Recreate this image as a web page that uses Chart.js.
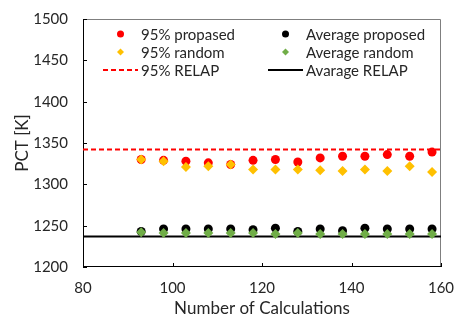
<!DOCTYPE html>
<html>
<head>
<meta charset="utf-8">
<script src="https://cdn.jsdelivr.net/npm/chart.js@4/dist/chart.umd.min.js"></script>
<style>
  html, body { margin: 0; padding: 0; background: #fff; }
  #wrap { width: 458px; height: 320px; }
</style>
</head>
<body>
<div id="wrap"><canvas id="pctChart" width="458" height="320"></canvas></div>
<script>
// values
const calcs = [93, 98, 103, 108, 113, 118, 123, 128, 133, 138, 143, 148, 153, 158];
const p95Proposed = [1330, 1329, 1328, 1326, 1324, 1329, 1330, 1327, 1332, 1334, 1334, 1336, 1334, 1339];
const p95Random = [1330, 1328, 1321, 1322, 1324, 1318, 1318, 1318, 1317, 1316, 1318, 1316, 1322, 1315];
const avgProposed = [1243, 1246, 1246, 1246, 1246, 1245, 1247, 1243, 1246, 1244, 1247, 1246, 1246, 1246];
const avgRandom = [1242, 1241, 1241, 1241, 1241, 1241, 1240, 1241, 1240, 1240, 1240, 1240, 1240, 1240];
const relap95 = [1342];
const relapAvg = [1237];
const xTicks = [80, 100, 120, 140, 160];
const yTicks = [1200, 1250, 1300, 1350, 1400, 1450, 1500];

const FONT = 'Lato, "Open Sans", sans-serif';
const TXT = '#262626';

function points(ys) {
    return calcs.map((x, i) => ({ x: x, y: ys[i] }));
}
function hline(v) {
    return [{ x: xTicks[0], y: v }, { x: xTicks[xTicks.length - 1], y: v }];
}

// frame + inward tick marks
const framePlugin = {
    id: 'frame',
    beforeDatasetsDraw(chart) {
        const { ctx, chartArea: a, scales } = chart;
        ctx.save();
        ctx.lineWidth = 1;
        ctx.strokeStyle = '#7f7f7f';
        ctx.beginPath();
        ctx.moveTo(a.left, a.top + 0.5);
        ctx.lineTo(a.right - 0.5, a.top + 0.5);
        ctx.lineTo(a.right - 0.5, a.bottom);
        ctx.stroke();
        ctx.strokeStyle = '#000';
        ctx.beginPath();
        ctx.moveTo(a.left + 0.5, a.top);
        ctx.lineTo(a.left + 0.5, a.bottom - 0.5);
        ctx.lineTo(a.right, a.bottom - 0.5);
        yTicks.forEach(v => {
            const y = Math.round(scales.y.getPixelForValue(v)) + 0.5;
            ctx.moveTo(a.left, y);
            ctx.lineTo(a.left + 4, y);
        });
        xTicks.forEach(v => {
            const x = Math.round(scales.x.getPixelForValue(v)) + 0.5;
            ctx.moveTo(x, a.bottom);
            ctx.lineTo(x, a.bottom - 4);
        });
        ctx.stroke();
        ctx.restore();
    }
};

const legendItems = [
    { label: '95% propased', type: 'dot', color: '#ff0000', col: 0, row: 0 },
    { label: 'Average proposed', type: 'dot', color: '#000000', col: 1, row: 0 },
    { label: '95% random', type: 'diamond', color: '#ffc000', col: 0, row: 1 },
    { label: 'Average random', type: 'diamond', color: '#70ad47', col: 1, row: 1 },
    { label: '95% RELAP', type: 'dash', color: '#ff0000', col: 0, row: 2 },
    { label: 'Avarage RELAP', type: 'line', color: '#000000', col: 1, row: 2 }
];

const legendPlugin = {
    id: 'boxLegend',
    afterDatasetsDraw(chart) {
        const { ctx, chartArea: a } = chart;
        const colX = [a.left + 20, a.left + 185];
        const rowY = [a.top + 15, a.top + 33, a.top + 51];
        ctx.save();
        ctx.font = '15px ' + FONT;
        ctx.textBaseline = 'middle';
        legendItems.forEach(it => {
            const x = colX[it.col];
            const y = rowY[it.row];
            ctx.fillStyle = it.color;
            ctx.strokeStyle = it.color;
            if (it.type === 'dot') {
                ctx.beginPath();
                ctx.arc(x + 17.5, y, 3.5, 0, Math.PI * 2);
                ctx.fill();
            } else if (it.type === 'diamond') {
                ctx.beginPath();
                ctx.moveTo(x + 17.5, y - 3.5);
                ctx.lineTo(x + 21, y);
                ctx.lineTo(x + 17.5, y + 3.5);
                ctx.lineTo(x + 14, y);
                ctx.closePath();
                ctx.fill();
            } else {
                ctx.lineWidth = 2;
                ctx.setLineDash(it.type === 'dash' ? [5, 3] : []);
                ctx.beginPath();
                ctx.moveTo(x, y);
                ctx.lineTo(x + 35, y);
                ctx.stroke();
                ctx.setLineDash([]);
            }
            ctx.fillStyle = TXT;
            ctx.fillText(it.label, x + 38, y + 1);
        });
        ctx.restore();
    }
};

new Chart(document.getElementById('pctChart'), {
    type: 'scatter',
    data: {
        datasets: [
            {
                label: '95% RELAP', type: 'line', data: hline(relap95[0]),
                borderColor: '#ff0000', borderWidth: 2, borderDash: [5, 3],
                pointRadius: 0, fill: false, order: 1
            },
            {
                label: 'Avarage RELAP', type: 'line', data: hline(relapAvg[0]),
                borderColor: '#000000', borderWidth: 2,
                pointRadius: 0, fill: false, order: 6
            },
            {
                label: '95% propased', data: points(p95Proposed),
                pointStyle: 'circle', pointRadius: 4.5,
                backgroundColor: '#ff0000', borderColor: '#ff0000', borderWidth: 0, order: 4
            },
            {
                label: 'Average proposed', data: points(avgProposed),
                pointStyle: 'circle', pointRadius: 4.5,
                backgroundColor: '#000000', borderColor: '#000000', borderWidth: 0, order: 5
            },
            {
                label: '95% random', data: points(p95Random),
                pointStyle: 'rectRot', pointRadius: 5,
                backgroundColor: '#ffc000', borderColor: '#ffc000', borderWidth: 0, order: 2
            },
            {
                label: 'Average random', data: points(avgRandom),
                pointStyle: 'rectRot', pointRadius: 5,
                backgroundColor: '#70ad47', borderColor: '#70ad47', borderWidth: 0, order: 3
            }
        ]
    },
    options: {
        responsive: false,
        animation: false,
        layout: { padding: { top: 19, right: 17, left: 0, bottom: 0 } },
        plugins: {
            legend: { display: false },
            tooltip: { enabled: false }
        },
        scales: {
            x: {
                type: 'linear',
                min: xTicks[0],
                max: xTicks[xTicks.length - 1],
                afterFit: s => { s.height = 53; s.paddingLeft = 0; s.paddingRight = 0; },
                afterBuildTicks: s => { s.ticks = xTicks.map(v => ({ value: v })); },
                grid: { display: false, drawTicks: false },
                border: { display: false },
                ticks: {
                    padding: 12, color: TXT, font: { family: FONT, size: 15 },
                    callback: v => String(v)
                },
                title: {
                    display: true, text: 'Number of Calculations', color: TXT,
                    font: { family: FONT, size: 17 }, padding: { top: 0, bottom: 1 }
                }
            },
            y: {
                min: yTicks[0],
                max: yTicks[yTicks.length - 1],
                afterFit: s => { s.width = 83; s.paddingTop = 0; s.paddingBottom = 0; },
                afterBuildTicks: s => { s.ticks = yTicks.map(v => ({ value: v })); },
                grid: { display: false, drawTicks: false },
                border: { display: false },
                ticks: {
                    padding: 15, color: TXT, font: { family: FONT, size: 15 },
                    callback: v => String(v)
                },
                title: {
                    display: true, text: 'PCT [K]', color: TXT,
                    font: { family: FONT, size: 17 }, padding: { top: 12, bottom: 0 }
                }
            }
        }
    },
    plugins: [framePlugin, legendPlugin]
});
</script>
</body>
</html>
